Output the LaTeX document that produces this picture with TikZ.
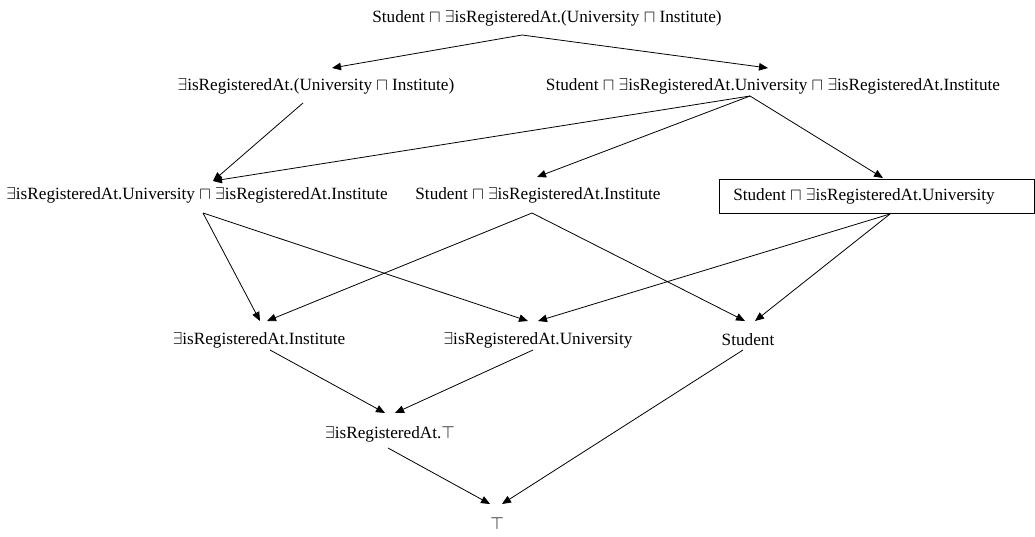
\documentclass[tikz,border=0pt]{standalone}
\usepackage{fontspec}
\setmainfont{Liberation Serif}
\usetikzlibrary{arrows.meta}
\newcommand{\sqc}{\(\sqcap\)}
\newcommand{\ex}{\(\exists\)}
\begin{document}
\begin{tikzpicture}[x=1pt,y=-1pt,
  concept/.style={inner sep=0pt,font=\fontsize{17.2}{19}\selectfont},
  link/.style={line width=0.8pt,-{Triangle[length=9pt,width=7.5pt]}}]
\path[use as bounding box] (0,0) rectangle (1035,537);

% concepts of the lattice
\node[concept] (top)  at (547,18)  {Student \sqc\ \ex isRegisteredAt.(University \sqc\ Institute)};
\node[concept] (rui)  at (316,86)  {\ex isRegisteredAt.(University \sqc\ Institute)};
\node[concept] (sui)  at (773,86)  {Student \sqc\ \ex isRegisteredAt.University \sqc\ \ex isRegisteredAt.Institute};
\node[concept] (ui)   at (197,195) {\ex isRegisteredAt.University \sqc\ \ex isRegisteredAt.Institute};
\node[concept] (si)   at (538,195) {Student \sqc\ \ex isRegisteredAt.Institute};
\node[concept] (su)   at (864,196) {Student \sqc\ \ex isRegisteredAt.University};
\draw[line width=0.6pt] (719,179) rectangle (1034,213);
\node[concept] (inst) at (259,340) {\ex isRegisteredAt.Institute};
\node[concept] (univ) at (538,340) {\ex isRegisteredAt.University};
\node[concept] (stud) at (748,340) {Student};
\node[concept] (reg)  at (390,434) {\ex isRegisteredAt.\(\top\)};
\node[concept] (thing) at (497,523) {\(\top\)};

% ports where the edges leave and arrive
\coordinate (top-o)  at (522,35);
\coordinate (rui-i)  at (332,68);
\coordinate (sui-i)  at (768,68);
\coordinate (rui-o)  at (303,103);
\coordinate (sui-o)  at (750,96);
\coordinate (ui-i)   at (213,181);
\coordinate (si-i)   at (537,177);
\coordinate (su-i)   at (883,178);
\coordinate (ui-o)   at (203,213);
\coordinate (si-o)   at (532,213);
\coordinate (su-o)   at (890,214);
\coordinate (inst-i1) at (260,321);
\coordinate (inst-i2) at (267,321);
\coordinate (univ-i1) at (528,321);
\coordinate (univ-i2) at (538,321);
\coordinate (stud-i1) at (745,321);
\coordinate (stud-i2) at (755,321);
\coordinate (inst-o) at (270,350);
\coordinate (univ-o) at (533,350);
\coordinate (stud-o) at (743,350);
\coordinate (reg-i1) at (385,413);
\coordinate (reg-i2) at (395,413);
\coordinate (reg-o)  at (388,448);
\coordinate (thing-i1) at (490,504);
\coordinate (thing-i2) at (502,504);

% subsumption edges
\draw[link] (top-o) -- (rui-i);
\draw[link] (top-o) -- (sui-i);
\draw[link] (rui-o) -- (ui-i);
\draw[link] (sui-o) -- (ui-i);
\draw[link] (sui-o) -- (si-i);
\draw[link] (sui-o) -- (su-i);
\draw[link] (ui-o) -- (inst-i1);
\draw[link] (ui-o) -- (univ-i1);
\draw[link] (si-o) -- (inst-i2);
\draw[link] (si-o) -- (stud-i1);
\draw[link] (su-o) -- (univ-i2);
\draw[link] (su-o) -- (stud-i2);
\draw[link] (inst-o) -- (reg-i1);
\draw[link] (univ-o) -- (reg-i2);
\draw[link] (reg-o) -- (thing-i1);
\draw[link] (stud-o) -- (thing-i2);
\end{tikzpicture}
\end{document}
